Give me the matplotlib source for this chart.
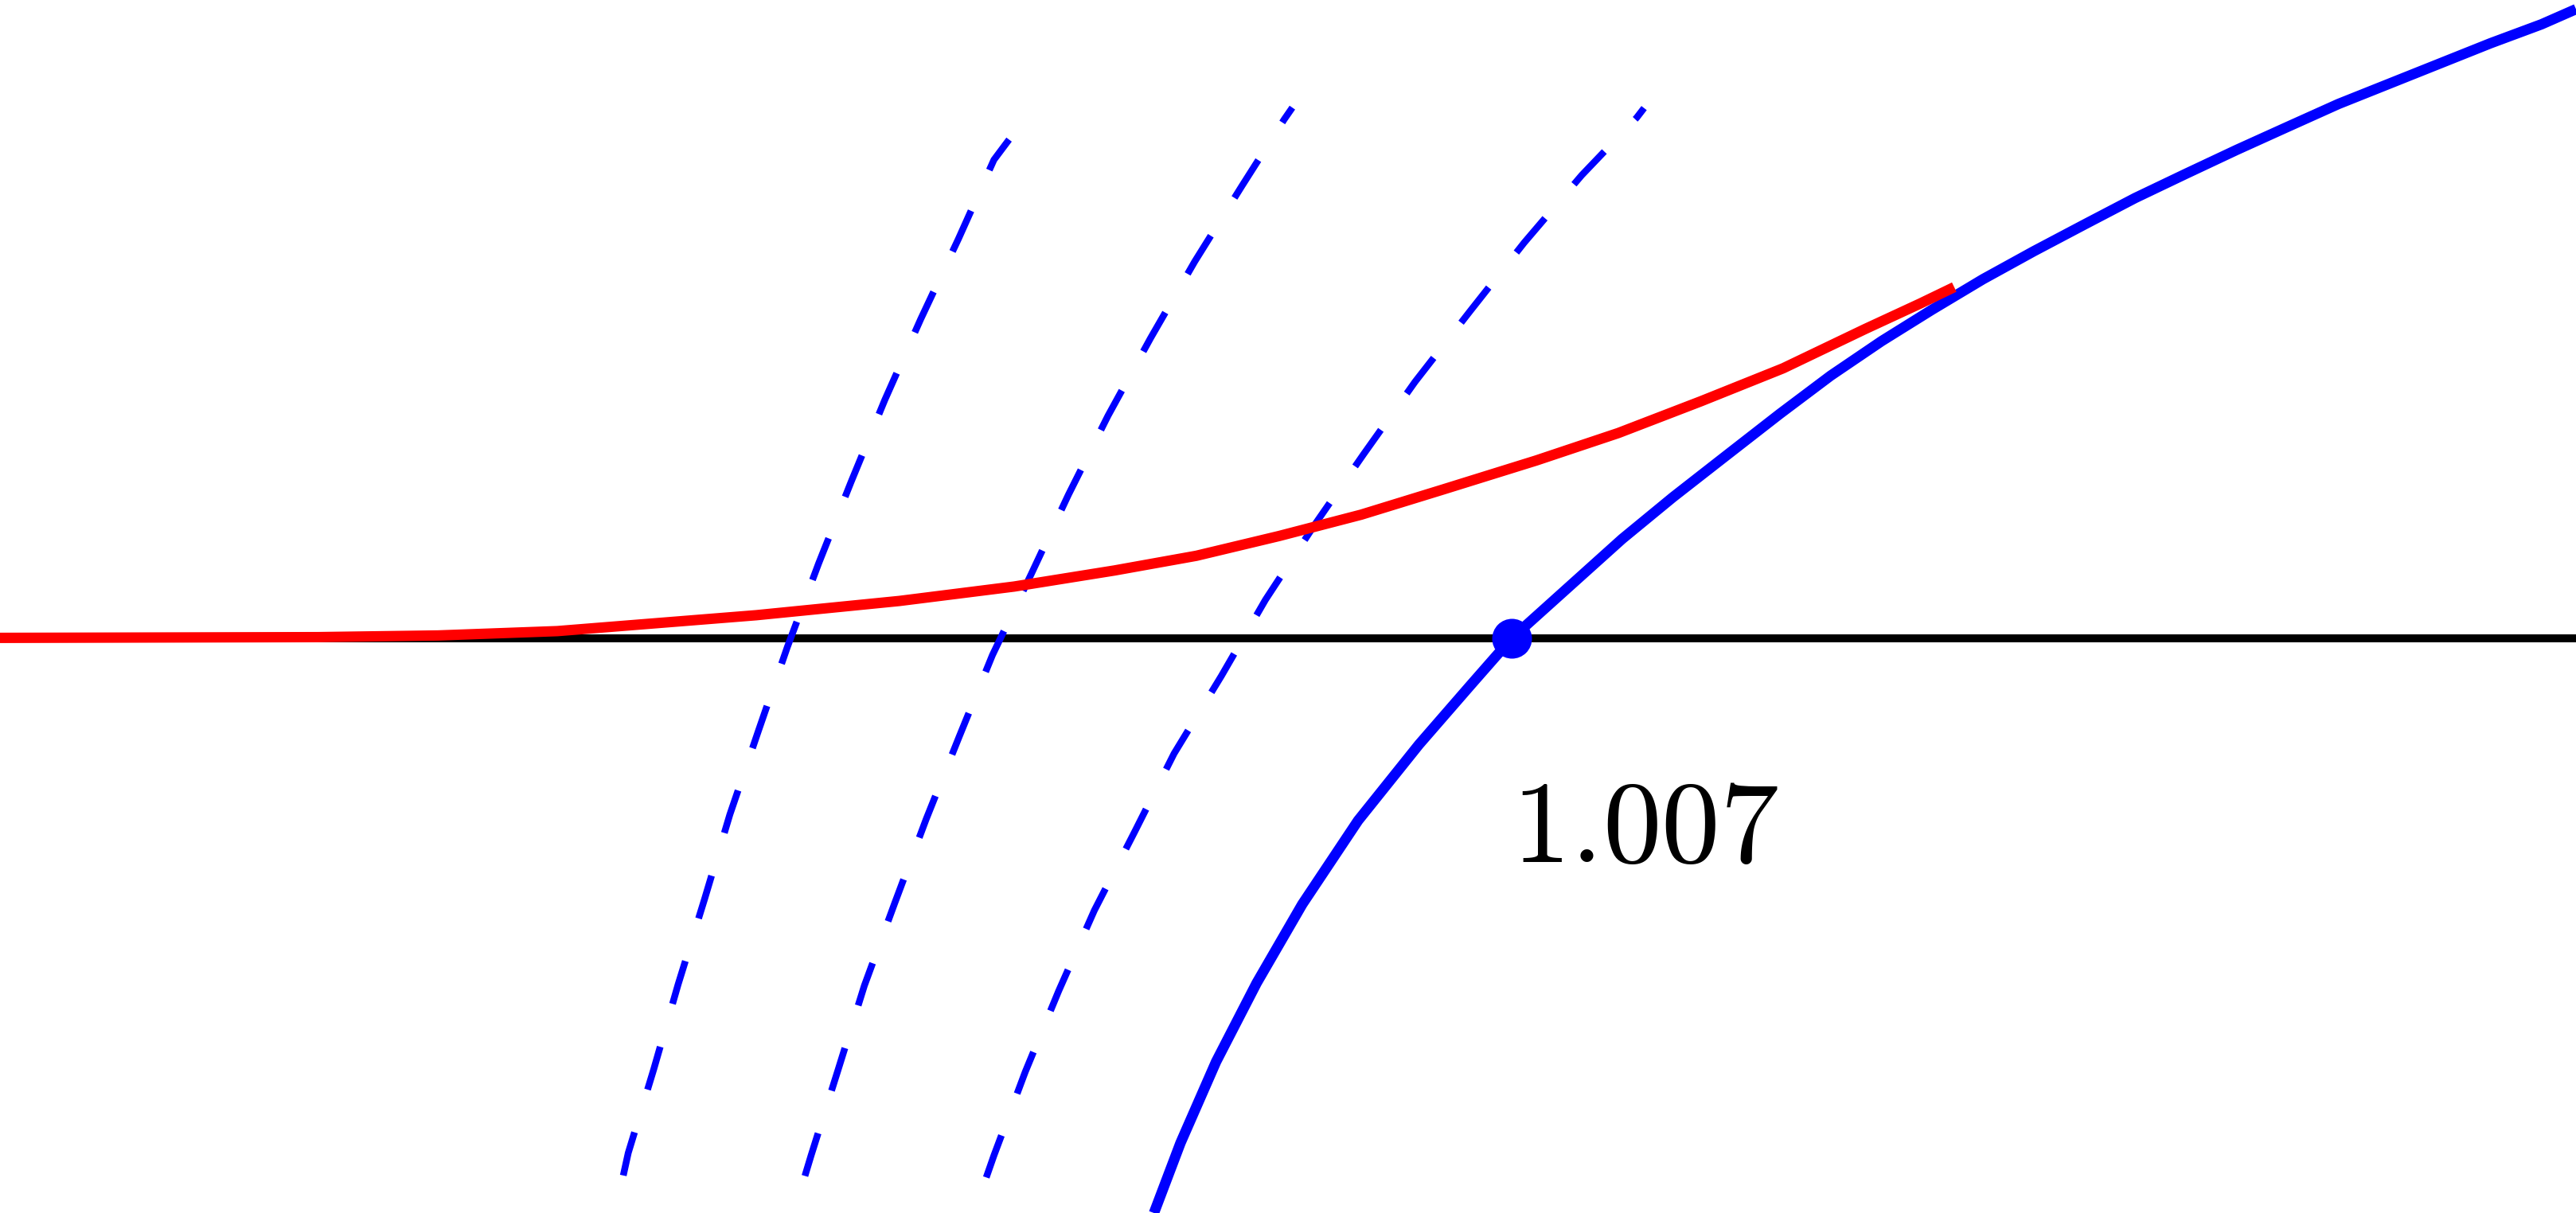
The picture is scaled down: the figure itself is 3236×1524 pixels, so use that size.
import matplotlib
matplotlib.use("Agg")
import matplotlib.pyplot as plt

plt.rcParams["mathtext.fontset"] = "cm"

# curva azul solida (raiz em 1.007)
azul_x = [0.7687, 0.7864, 0.8101, 0.8371, 0.8675, 0.9047, 0.9453, 0.9791, 1.0070,
          1.0468, 1.0806, 1.1144, 1.1482, 1.1857, 1.2195, 1.2534, 1.2871, 1.3210,
          1.3548, 1.3887, 1.4224, 1.4563, 1.4901, 1.5239, 1.5577, 1.5915, 1.6253,
          1.6591, 1.6930, 1.7160]
azul_y = [-0.3829, -0.3362, -0.2821, -0.2297, -0.1772, -0.1214, -0.0707, -0.0318, 0.0,
          0.0358, 0.0662, 0.0940, 0.1204, 0.1496, 0.1750, 0.1980, 0.2190, 0.2393,
          0.2579, 0.2758, 0.2934, 0.3096, 0.3255, 0.3408, 0.3560, 0.3695, 0.3830,
          0.3965, 0.4091, 0.4192]

# curvas tracejadas
trac1_x = [0.4152, 0.4185, 0.4355, 0.4517, 0.4693, 0.4862, 0.5054, 0.5245,
           0.5453, 0.5669, 0.5894, 0.6133, 0.6384, 0.6621, 0.6722]
trac1_y = [-0.3579, -0.3429, -0.2871, -0.2307, -0.1739, -0.1174, -0.0611, -0.0058,
           0.0498, 0.1041, 0.1588, 0.2126, 0.2660, 0.3188, 0.3323]

trac2_x = [0.5362, 0.5403, 0.5582, 0.5758, 0.5961, 0.6170, 0.6389, 0.6611,
           0.6869, 0.7117, 0.7381, 0.7665, 0.7959, 0.8271, 0.8555, 0.8609]
trac2_y = [-0.3582, -0.3446, -0.2878, -0.2314, -0.1762, -0.1204, -0.0657, -0.0112,
           0.0427, 0.0956, 0.1483, 0.2001, 0.2511, 0.3011, 0.3458, 0.3536]

trac3_x = [0.6570, 0.6621, 0.6830, 0.7053, 0.7290, 0.7557, 0.7821, 0.8136,
           0.8430, 0.8751, 0.9083, 0.9427, 0.9793, 1.0154, 1.0537, 1.0902, 1.0952]
trac3_y = [-0.3592, -0.3446, -0.2888, -0.2348, -0.1813, -0.1292, -0.0768, -0.0251,
           0.0257, 0.0747, 0.1226, 0.1710, 0.2180, 0.2637, 0.3086, 0.3468, 0.3533]

# curva vermelha
verm_x = [0.0, 0.2121, 0.2917, 0.3712, 0.5038, 0.5992, 0.6756, 0.7424, 0.7970,
          0.8522, 0.9068, 0.9614, 1.0234, 1.0781, 1.1332, 1.1878, 1.2425, 1.2790,
          1.3018]
verm_y = [0.0003, 0.0008, 0.0019, 0.0048, 0.0154, 0.0249, 0.0345, 0.0452, 0.0550,
          0.0682, 0.0824, 0.0992, 0.1185, 0.1368, 0.1580, 0.1799, 0.2061, 0.2230,
          0.2340]

raiz = 1.007
rotulo = "$1.007$"

figura = plt.figure(figsize=(16.18, 7.62), dpi=200)
ax = figura.add_axes([0, 0, 1, 1])
ax.set_xlim(0, 1.716)
ax.set_ylim(-0.3829, 0.4253)
ax.axis("off")

ax.axhline(0, color="black", lw=3.6, zorder=1)

for tx, ty in [(trac1_x, trac1_y), (trac2_x, trac2_y), (trac3_x, trac3_y)]:
    linha, = ax.plot(tx, ty, color="blue", lw=3.06, zorder=2,
                     solid_capstyle="butt", dash_capstyle="butt")
    linha.set_dashes((6.6, 6.6))

ax.plot(azul_x, azul_y, color="blue", lw=4.7, zorder=3,
        solid_capstyle="butt", solid_joinstyle="round")
ax.plot(verm_x, verm_y, color="red", lw=4.7, zorder=4,
        solid_capstyle="butt", solid_joinstyle="round")

ax.plot([raiz], [0], "o", color="blue", ms=18, mec="none", zorder=5)
ax.text(raiz, -0.149, rotulo, fontsize=53, ha="left", va="baseline", zorder=6)

figura.savefig("out.png", dpi=200)
